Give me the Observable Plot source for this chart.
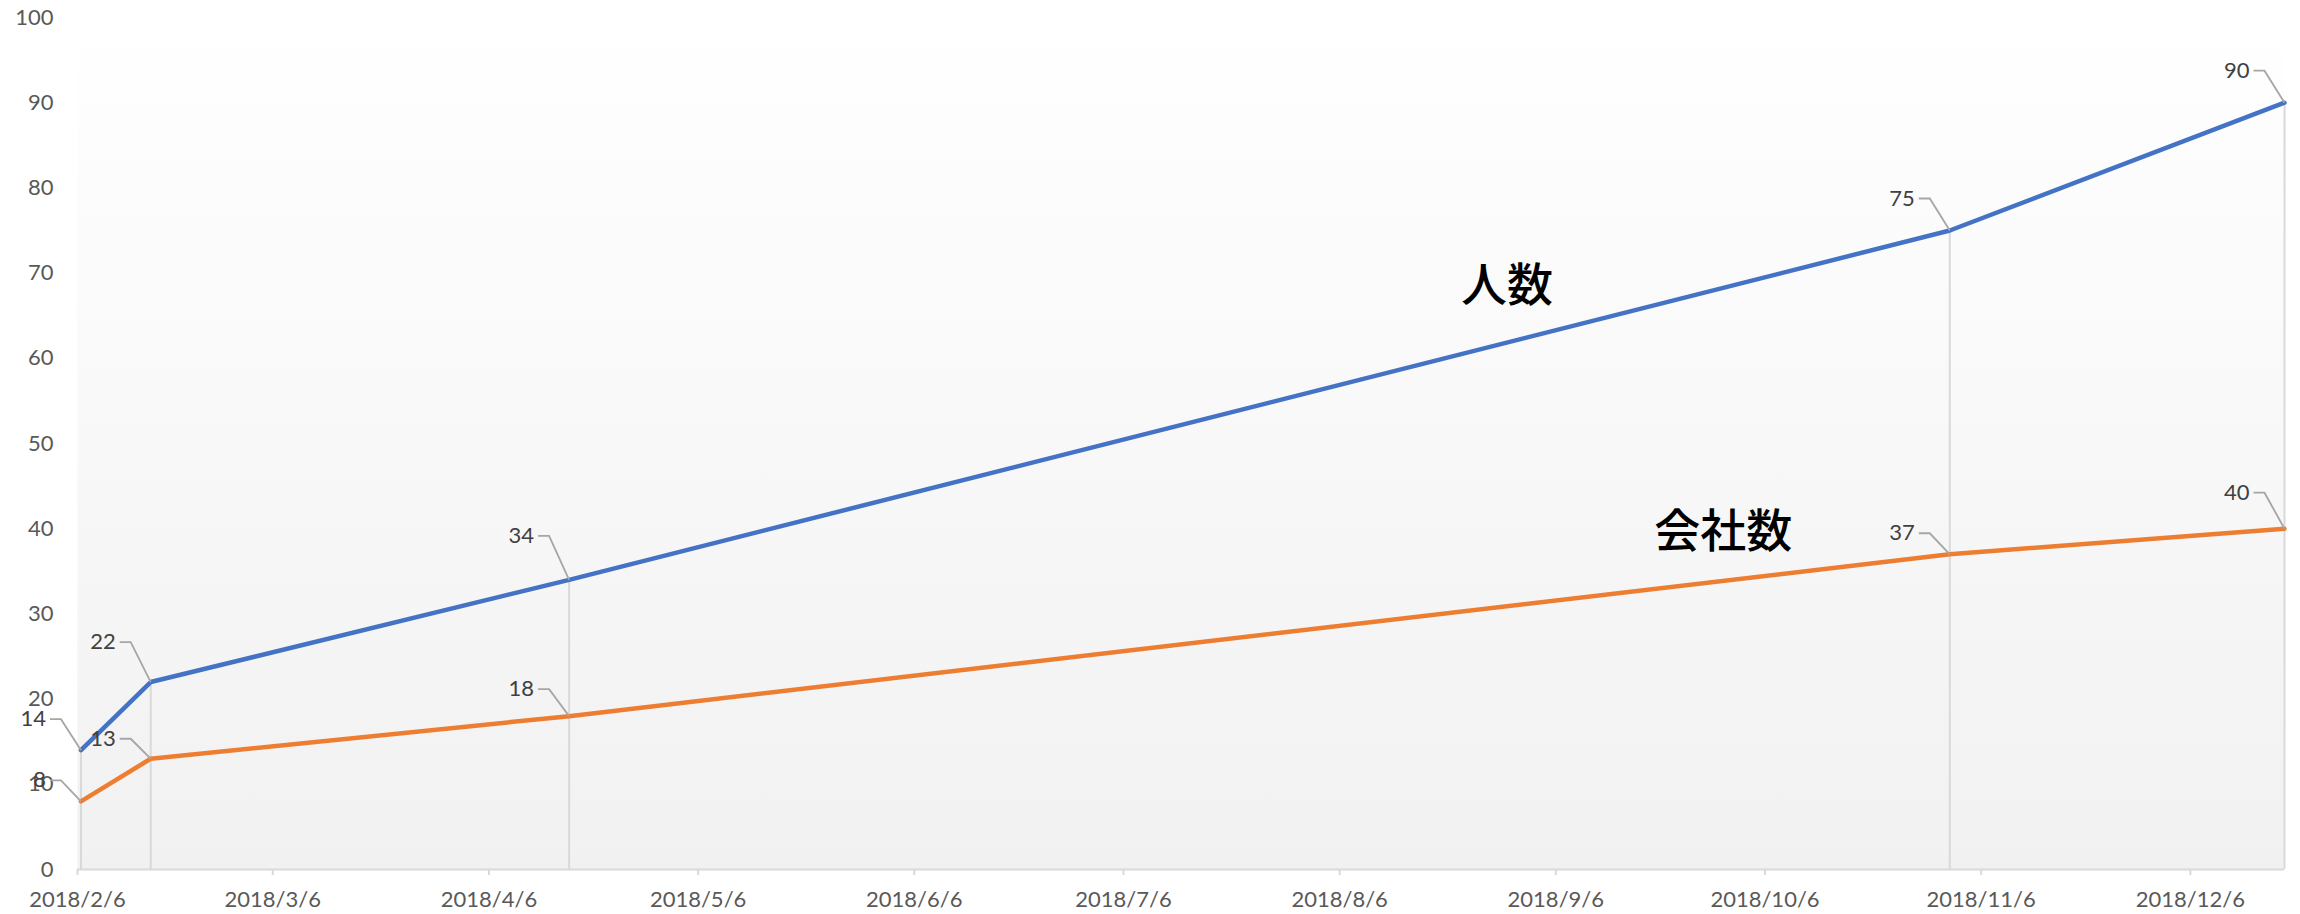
<!DOCTYPE html>
<html>
<head>
<meta charset="utf-8">
<script src="https://cdn.jsdelivr.net/npm/d3@7"></script>
<script src="https://cdn.jsdelivr.net/npm/@observablehq/plot@0.6"></script>
<style>
  html, body { margin: 0; padding: 0; background: #ffffff; }
  #chart svg { display: block; }
</style>
</head>
<body>
<div id="chart"></div>
<script>
// ---- data ----
const dates = ["2018-02-06T12:00", "2018-02-16T12:00", "2018-04-17T12:00", "2018-11-01T12:00", "2018-12-19T12:00"];
const peopleValues = [14, 22, 34, 75, 90];      // 人数
const companyValues = [8, 13, 18, 37, 40];      // 会社数
const seriesNames = ["人数", "会社数"];
const xTickDates = ["2018-02-06", "2018-03-06", "2018-04-06", "2018-05-06", "2018-06-06", "2018-07-06",
                    "2018-08-06", "2018-09-06", "2018-10-06", "2018-11-06", "2018-12-06"];
const yTicks = [0, 10, 20, 30, 40, 50, 60, 70, 80, 90, 100];
const annotationNames = ["人数", "会社数"];
const annotationDates = ["2018-08-30", "2018-09-30"];
const annotationValues = [68.4, 39.6];

// ---- styling (kept apart from the data) ----
const seriesColors = ["#4472C4", "#ED7D31"];
// vertical lift (px) of each data label above its point, as the callouts sit in the reference
const labelLift = [[-31, -40, -44, -32, -32], [-21, -20, -27, -21, -36]];

// ---- tables built from the arrays ----
const parse = s => new Date(s + "Z");
const series = [peopleValues, companyValues].map((vals, i) =>
  vals.map((v, j) => ({series: seriesNames[i], date: parse(dates[j]), value: v, lift: labelLift[i][j]})));
const allRows = series.flat();
const dropRows = dates.map((d, j) => ({date: parse(d), top: Math.max(peopleValues[j], companyValues[j])}));
const annotations = annotationNames.map((n, i) => ({name: n, date: parse(annotationDates[i] + "T00:00"), value: annotationValues[i]}));

const fmt = d => `${d.getUTCFullYear()}/${d.getUTCMonth() + 1}/${d.getUTCDate()}`;

// leader line (Excel-style callout) as a custom symbol
const leader = lift => ({
  draw(context) {
    context.moveTo(-31, lift);
    context.lineTo(-20, lift);
    context.lineTo(0, 0);
  }
});

const tickFont = "Lato, 'Noto Sans', sans-serif";

const chart = Plot.plot({
  width: 2300,
  height: 914,
  marginLeft: 77,
  marginRight: 16,
  marginTop: 17,
  marginBottom: 45,
  style: {fontFamily: tickFont, fontSize: "22px", color: "#595959", background: "#ffffff"},
  x: {
    type: "utc",
    domain: [parse("2018-02-06T00:00"), parse("2018-12-19T12:00")],
    ticks: xTickDates.map(d => parse(d + "T00:00")),
    tickFormat: fmt,
    tickSize: 6,
    tickPadding: 16,
    label: null
  },
  y: {
    domain: [0, 100],
    ticks: yTicks,
    tickSize: 0,
    tickPadding: 24,
    label: null
  },
  marks: [
    Plot.frame({fill: "url(#plotbg)", stroke: "none"}),
    Plot.ruleX(dropRows, {x: "date", y1: 0, y2: "top", stroke: "#D9D9D9", strokeWidth: 2}),
    Plot.ruleY([0], {stroke: "#D9D9D9", strokeWidth: 2}),
    Plot.line(series[0], {x: "date", y: "value", stroke: seriesColors[0], strokeWidth: 4.5, strokeLinejoin: "round", strokeLinecap: "round"}),
    Plot.line(series[1], {x: "date", y: "value", stroke: seriesColors[1], strokeWidth: 4.5, strokeLinejoin: "round", strokeLinecap: "round"}),
    ...allRows.map(r => Plot.dot([r], {x: "date", y: "value", symbol: leader(r.lift), r: 3, fill: "none", stroke: "#A6A6A6", strokeWidth: 1.8})),
    ...allRows.map(r => Plot.text([r], {x: "date", y: "value", text: d => String(d.value), dx: -35, dy: r.lift, textAnchor: "end",
      fill: "#404040", fontSize: 22, fontFamily: tickFont})),
    Plot.text(annotations, {x: "date", y: "value", text: "name", fill: "#000000", fontSize: 46,
      fontFamily: "'Noto Sans CJK JP', 'Noto Sans CJK SC', sans-serif", fontWeight: 500})
  ]
});

const svg = d3.select(chart);
const defs = svg.insert("defs", ":first-child");
const grad = defs.append("linearGradient").attr("id", "plotbg").attr("x1", 0).attr("y1", 0).attr("x2", 0).attr("y2", 1);
grad.append("stop").attr("offset", "0%").attr("stop-color", "#ffffff");
grad.append("stop").attr("offset", "100%").attr("stop-color", "#f1f1f1");
// tick marks in light grey like the reference
svg.selectAll('[aria-label^="x-axis"] line, [aria-label^="x-axis"] path').attr("stroke", "#D9D9D9").attr("stroke-width", 2);
svg.selectAll('[aria-label^="x-axis"] text, [aria-label^="y-axis"] text').attr("fill", "#595959");

document.getElementById("chart").appendChild(chart);
</script>
</body>
</html>
